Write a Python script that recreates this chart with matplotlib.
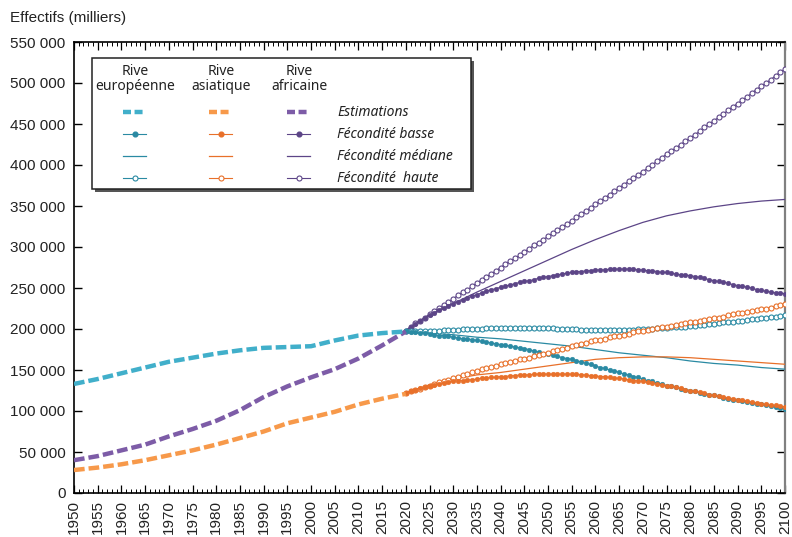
import numpy as np
import matplotlib
matplotlib.use("Agg")
import matplotlib.pyplot as plt
from matplotlib.ticker import MultipleLocator, FuncFormatter
from matplotlib.patches import Rectangle
from matplotlib.lines import Line2D

# -------------------------------
# Data (thousands)
# -------------------------------
years_est = np.arange(1950, 2021, 5)
eu_est = [133, 139, 146, 153, 160, 165, 170, 174, 177, 178, 179, 186, 192, 195, 197]
as_est = [28, 31, 35, 40, 46, 52, 59, 67, 75, 85, 92, 99, 108, 115, 121]
af_est = [40, 45, 52, 59, 69, 78, 88, 101, 117, 130, 141, 151, 164, 180, 197]

years_proj = np.arange(2020, 2101)
years_med = np.arange(2020, 2101, 5)

eu_basse = [197, 196, 196, 195, 195, 194, 193, 192, 192, 191, 190,
            189, 188, 188, 187, 186, 185, 184, 183, 182, 181,
            180, 179, 178, 177, 176, 175, 173, 172, 170, 169,
            168, 167, 165, 164, 163, 161, 160, 158, 157, 155,
            153, 152, 150, 149, 147, 145, 144, 142, 141, 139,
            137, 136, 134, 133, 131, 130, 129, 127, 126, 125,
            124, 122, 121, 120, 119, 118, 116, 115, 114, 113,
            112, 111, 110, 109, 108, 107, 106, 105, 104, 103]
eu_med = [197, 195, 193, 190, 188, 185, 182, 179, 175, 171, 168, 165, 161, 158, 156, 153, 151]
eu_haute = [197, 197, 197, 197, 198, 198, 198, 198, 199, 199,
            199, 199, 200, 200, 200, 200, 200, 201, 201, 201,
            201, 201, 201, 201, 201, 201, 201, 201, 201, 201,
            201, 201, 200, 200, 200, 200, 200, 199, 199, 199,
            199, 199, 199, 199, 199, 199, 199, 199, 199, 200,
            200, 200, 200, 201, 201, 201, 202, 202, 203, 203,
            204, 204, 205, 205, 206, 206, 207, 208, 208, 209,
            210, 210, 211, 212, 212, 213, 214, 215, 215, 216, 217]

as_basse = [122, 124, 126, 128, 129, 131, 132, 133, 134, 135, 136,
            137, 137, 138, 138, 139, 140, 140, 141, 141, 142,
            142, 143, 143, 144, 144, 144, 145, 145, 145, 145,
            145, 145, 145, 145, 145, 145, 144, 144, 143, 143,
            142, 142, 141, 140, 140, 139, 138, 137, 137, 136,
            135, 134, 133, 132, 131, 130, 129, 128, 126, 125,
            124, 123, 122, 120, 119, 118, 117, 116, 115, 114,
            113, 112, 111, 110, 109, 108, 107, 107, 106, 105]
as_med = [122, 132, 139, 144, 147, 151, 155, 159, 163, 165, 166, 166, 165, 163, 161, 159, 157]
as_haute = [122, 124, 126, 127, 129, 131, 133, 135, 136, 138, 140,
            142, 144, 145, 147, 149, 151, 152, 154, 155, 157,
            158, 160, 161, 163, 164, 165, 167, 168, 170, 171,
            173, 174, 176, 177, 179, 180, 182, 183, 185, 186,
            187, 188, 190, 191, 192, 193, 194, 196, 197, 198,
            199, 200, 201, 202, 203, 204, 205, 206, 207, 208,
            209, 210, 211, 212, 213, 214, 215, 217, 218, 219,
            220, 221, 222, 223, 224, 225, 226, 228, 229, 230]

af_basse = [198, 202, 206, 210, 214, 217, 220, 223, 226, 228, 231,
            233, 235, 238, 240, 242, 244, 246, 248, 249, 251,
            252, 254, 255, 257, 258, 259, 260, 262, 263, 264,
            265, 266, 267, 268, 269, 270, 270, 271, 271, 272,
            272, 272, 273, 273, 273, 273, 273, 273, 272, 272,
            271, 271, 270, 269, 269, 268, 267, 266, 266, 265,
            264, 263, 262, 260, 259, 258, 257, 256, 254, 253,
            252, 251, 250, 248, 247, 246, 245, 244, 244, 243]
af_med = [198, 216, 231, 245, 258, 271, 284, 297, 309, 320, 330, 338, 344, 349, 353, 356, 358]
af_haute = [198, 203, 207, 210, 214, 218, 222, 226, 229, 233, 237,
            241, 245, 248, 252, 256, 260, 264, 267, 271, 275,
            279, 283, 286, 290, 294, 298, 302, 305, 309, 313,
            317, 321, 324, 328, 332, 336, 340, 344, 348, 352,
            356, 360, 364, 368, 372, 376, 380, 384, 388, 392,
            396, 400, 405, 409, 413, 417, 421, 425, 429, 433,
            437, 441, 446, 450, 454, 458, 462, 467, 471, 475,
            479, 483, 488, 492, 496, 500, 504, 509, 513, 517]

col_est = {"eu": "#41afca", "as": "#f7994a", "af": "#7d5ca7"}
col_proj = {"eu": "#2a8aa3", "as": "#e8702a", "af": "#5c4587"}

series = {
    "eu": (eu_est, eu_basse, eu_med, eu_haute),
    "as": (as_est, as_basse, as_med, as_haute),
    "af": (af_est, af_basse, af_med, af_haute),
}

# -------------------------------
# Figure
# -------------------------------
W, H = 792, 537
fig = plt.figure(figsize=(W / 100, H / 100), dpi=100)
ax = fig.add_axes([74 / W, 1 - 493 / H, 711 / W, 451 / H])

tick_font = "Liberation Sans"
leg_font = "Noto Sans"

for key in ["af", "eu", "as"]:
    est, basse, med, haute = series[key]
    k = 1000
    ax.plot(years_med, np.array(med) * k, color=col_proj[key], lw=0.9, zorder=3)
    ax.plot(years_proj, np.array(haute) * k, color=col_proj[key], lw=0.8,
            marker="o", ms=3.6, mfc="white", mec=col_proj[key], mew=0.8, zorder=4)
    ax.plot(years_proj, np.array(basse) * k, color=col_proj[key], lw=0.8,
            marker="o", ms=3.4, mfc=col_proj[key], mec=col_proj[key], mew=0.3, zorder=4)
    ax.plot(years_est, np.array(est) * k, color=col_est[key], lw=3.2,
            dashes=(2.4, 0.9), zorder=5)

ax.set_xlim(1950, 2100)
ax.set_ylim(0, 550000)

ax.xaxis.set_major_locator(MultipleLocator(5))
ax.xaxis.set_minor_locator(MultipleLocator(1))
ax.yaxis.set_major_locator(MultipleLocator(50000))
ax.yaxis.set_major_formatter(FuncFormatter(lambda v, p: f"{v:,.0f}".replace(",", " ")))

ax.tick_params(axis="x", which="major", direction="in", top=True, length=5.5, width=0.9,
               pad=5, labelsize=11, labelrotation=90)
ax.tick_params(axis="x", which="minor", direction="in", top=True, length=3, width=0.7)
ax.tick_params(axis="y", which="major", direction="in", right=True, length=6, width=1,
               pad=6, labelsize=11)
for lab in ax.get_xticklabels() + ax.get_yticklabels():
    lab.set_fontfamily(tick_font)
    lab.set_color("#222222")

for s in ["left", "bottom", "top"]:
    ax.spines[s].set_linewidth(1.2)
ax.spines["right"].set_color("#808080")
ax.spines["right"].set_linewidth(1.6)

fig.text(10 / W, 1 - 18 / H, "Effectifs (milliers)", fontsize=11, family=tick_font,
         va="center", ha="left", color="#222222")

# -------------------------------
# Legend (drawn by hand)
# -------------------------------
def fp(x, y):
    return x / W, 1 - y / H

bx0, by0, bx1, by1 = 92, 58, 471, 189
shadow = Rectangle(fp(bx0 + 3, by1 + 3), (bx1 - bx0) / W, (by1 - by0) / H,
                   transform=fig.transFigure, facecolor="#555555", edgecolor="none", zorder=8)
box = Rectangle(fp(bx0, by1), (bx1 - bx0) / W, (by1 - by0) / H,
                transform=fig.transFigure, facecolor="white", edgecolor="#222222",
                lw=1.1, zorder=9)
fig.patches.extend([shadow, box])

headers = ["Rive\neuropéenne", "Rive\nasiatique", "Rive\nafricaine"]
col_x = [135, 221, 299]
for hx, txt in zip(col_x, headers):
    fig.text(*fp(hx, 79), txt, ha="center", va="center", fontsize=10, family=leg_font,
             linespacing=1.0, color="#222222", zorder=10)

row_labels = ["Estimations", "Fécondité basse", "Fécondité médiane", "Fécondité  haute"]
row_y = [112, 134, 156, 178]
for key, cx in zip(["eu", "as", "af"], col_x):
    xs = [cx - 12, cx + 11]
    for i, ry in enumerate(row_y):
        (x0, y0), (x1, _) = fp(xs[0], ry), fp(xs[1], ry)
        if i == 0:
            ln = Line2D([x0, x1], [y0, y0], color=col_est[key], lw=3.2, dashes=(1.8, 0.8))
        elif i == 1:
            ln = Line2D([x0, (x0 + x1) / 2, x1], [y0] * 3, color=col_proj[key], lw=0.8,
                        marker="o", ms=3.4, markevery=[1], mfc=col_proj[key], mec=col_proj[key])
        elif i == 2:
            ln = Line2D([x0, x1], [y0, y0], color=col_proj[key], lw=0.9)
        else:
            ln = Line2D([x0, (x0 + x1) / 2, x1], [y0] * 3, color=col_proj[key], lw=0.8,
                        marker="o", ms=3.6, markevery=[1], mfc="white", mec=col_proj[key], mew=0.8)
        ln.set_transform(fig.transFigure)
        ln.set_zorder(10)
        fig.lines.append(ln)

for ry, txt in zip(row_y, row_labels):
    fig.text(*fp(337, ry), txt, ha="left", va="center", fontsize=10, family=leg_font,
             style="italic", color="#222222", zorder=10)

fig.savefig("out.png", dpi=100)
